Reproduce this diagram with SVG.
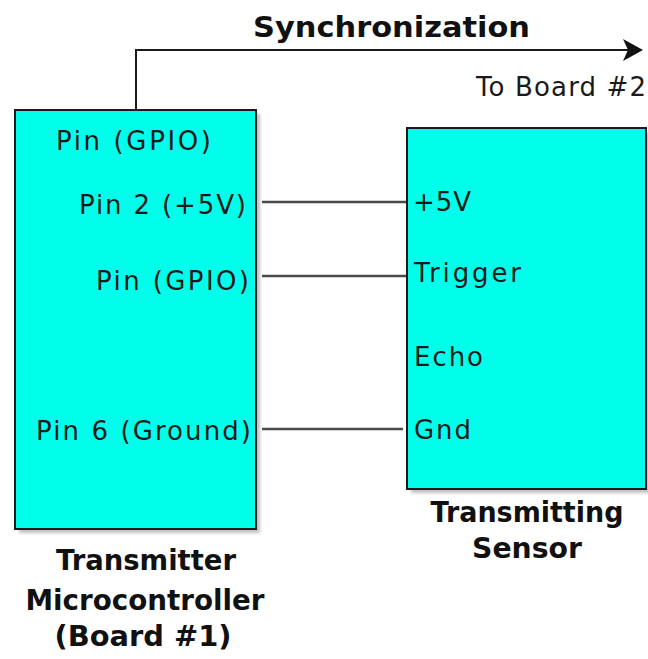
<svg xmlns="http://www.w3.org/2000/svg" width="648" height="659" viewBox="0 0 648 659">
<defs>
<filter id="sh" x="-5%" y="-5%" width="115%" height="115%">
<feGaussianBlur stdDeviation="1.5"/>
</filter>
</defs>
<style>
.box{fill:#00FFEA;stroke:#1a1a1a;stroke-width:2}
.shadow{fill:#9a9a9a;opacity:0.6;filter:url(#sh)}
.t{font-family:"DejaVu Sans",Verdana,sans-serif;font-size:26px;fill:#1a1a1a}
.b{font-family:"DejaVu Sans",Verdana,sans-serif;font-size:28px;font-weight:bold;fill:#111}
.wire{stroke:#4a4a4a;stroke-width:2.5;fill:none}
.sync{stroke:#1a1a1a;stroke-width:2;fill:none}
</style>
<rect width="648" height="659" fill="#fff"/>
<g id="connectors">
<polyline class="sync" points="136,110 136,50 630,50"/>
<polygon points="623,39 643,50 623,61 628,50" fill="#111"/>
<line class="wire" x1="262" y1="202" x2="407" y2="202"/>
<line class="wire" x1="262" y1="276" x2="407" y2="276"/>
<line class="wire" x1="262" y1="429" x2="403" y2="429"/>
</g>
<g id="sync-label">
<text class="b" x="253" y="37" font-size="32" textLength="277" lengthAdjust="spacingAndGlyphs">Synchronization</text>
<text class="t" x="476" y="96" textLength="170" lengthAdjust="spacing">To Board #2</text>
</g>
<g id="microcontroller">
<rect class="shadow" x="19" y="114" width="241" height="419"/>
<rect class="box" x="15" y="110" width="241" height="419"/>
<text class="t" x="56" y="150" textLength="155" lengthAdjust="spacing">Pin (GPIO)</text>
<text class="t" x="79" y="214" textLength="167" lengthAdjust="spacing">Pin 2 (+5V)</text>
<text class="t" x="96" y="290" textLength="153" lengthAdjust="spacing">Pin (GPIO)</text>
<text class="t" x="36" y="440" textLength="215" lengthAdjust="spacing">Pin 6 (Ground)</text>
<text class="b" x="146" y="570" text-anchor="middle" textLength="180" lengthAdjust="spacingAndGlyphs">Transmitter</text>
<text class="b" x="145" y="610" text-anchor="middle" textLength="239" lengthAdjust="spacingAndGlyphs">Microcontroller</text>
<text class="b" x="143" y="646" text-anchor="middle" textLength="177" lengthAdjust="spacingAndGlyphs">(Board #1)</text>
</g>
<g id="sensor">
<rect class="shadow" x="411" y="132" width="240" height="361"/>
<rect class="box" x="407" y="128" width="239" height="361"/>
<text class="t" x="413" y="211" textLength="58" lengthAdjust="spacing">+5V</text>
<text class="t" x="414" y="282" textLength="107" lengthAdjust="spacing">Trigger</text>
<text class="t" x="414" y="366" textLength="69" lengthAdjust="spacing">Echo</text>
<text class="t" x="414" y="439" textLength="57" lengthAdjust="spacing">Gnd</text>
<text class="b" x="527" y="522" text-anchor="middle" textLength="193" lengthAdjust="spacingAndGlyphs">Transmitting</text>
<text class="b" x="527" y="558" text-anchor="middle" textLength="110" lengthAdjust="spacingAndGlyphs">Sensor</text>
</g>
</svg>
